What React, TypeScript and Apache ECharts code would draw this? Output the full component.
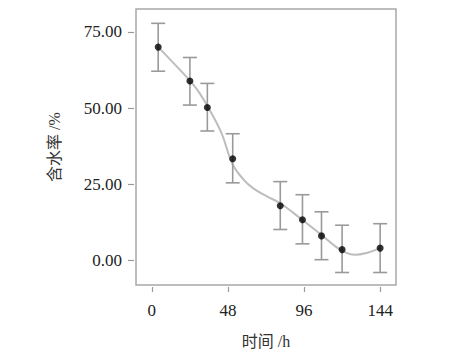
import React, { useEffect, useRef } from "react";
import * as echarts from "echarts";

const times = [4, 24, 35, 51, 81, 95, 107, 120, 144];
const means = [70, 58.9, 50.2, 33.4, 18.0, 13.4, 8.1, 3.6, 4.1];
const lows = [62.1, 51.0, 42.5, 25.5, 10.2, 5.5, 0.3, -3.9, -3.9];
const highs = [77.8, 66.6, 58.1, 41.6, 25.9, 21.6, 16.0, 11.6, 12.1];

const curveTimes = [4, 14, 24, 30, 36, 44, 51, 58, 64, 72, 81, 95, 107, 116, 122, 128, 136, 144];
const curveValues = [70, 64.6, 59, 55, 49.8, 41.7, 31.5, 26.5, 23.7, 21.2, 18.8, 13.3, 8.4, 4.6, 2.7, 1.9, 2.6, 4.1];

const xTicks = [0, 48, 96, 144];
const yTicks = [0, 25, 50, 75];

const FONT = "Liberation Serif, Noto Sans CJK SC, serif";

export default function App() {
  const ref = useRef<HTMLDivElement>(null);
  useEffect(() => {
    if (!ref.current) return;
    const chart = echarts.init(ref.current, undefined, { renderer: "svg" });
    const errData = times.map((t, i) => [t, lows[i], highs[i]]);
    chart.setOption({
      animation: false,
      backgroundColor: "#ffffff",
      grid: {
        left: 136,
        top: 9,
        width: 260,
        height: 276,
        show: true,
        borderColor: "#a8a8a8",
        borderWidth: 1.5,
        backgroundColor: "transparent",
      },
      xAxis: {
        type: "value",
        min: -10,
        max: 154,
        offset: 2,
        name: "时间 /h",
        nameLocation: "middle",
        nameGap: 46,
        nameTextStyle: { fontFamily: FONT, fontSize: 16, color: "#333" },
        axisLine: { show: false, onZero: false },
        axisTick: { show: true, length: 5, customValues: xTicks, lineStyle: { color: "#999", width: 1.2 } },
        axisLabel: { customValues: xTicks, margin: 15, fontFamily: FONT, fontSize: 17, color: "#222" },
        splitLine: { show: false },
      },
      yAxis: {
        type: "value",
        min: -8,
        max: 82.5,
        offset: 2,
        name: "含水率 /%",
        nameLocation: "middle",
        nameGap: 72,
        nameRotate: 90,
        nameTextStyle: { fontFamily: FONT, fontSize: 16, color: "#333" },
        axisLine: { show: false, onZero: false },
        axisTick: { show: true, length: 6, customValues: yTicks, lineStyle: { color: "#999", width: 1.2 } },
        axisLabel: {
          customValues: yTicks,
          margin: 12,
          fontFamily: FONT,
          fontSize: 17,
          color: "#222",
          formatter: (v: number) => v.toFixed(2),
        },
        splitLine: { show: false },
      },
      series: [
        {
          type: "line",
          data: curveTimes.map((t, i) => [t, curveValues[i]]),
          smooth: 0.4,
          showSymbol: false,
          lineStyle: { color: "#bdbdbd", width: 2 },
          z: 1,
        },
        {
          type: "custom",
          data: errData,
          z: 2,
          renderItem: (params: any, api: any) => {
            const x = api.value(0);
            const lo = api.coord([x, api.value(1)]);
            const hi = api.coord([x, api.value(2)]);
            const hw = 7;
            const style = { stroke: "#9a9a9a", lineWidth: 1.6 };
            return {
              type: "group",
              children: [
                { type: "line", shape: { x1: lo[0], y1: lo[1], x2: hi[0], y2: hi[1] }, style },
                { type: "line", shape: { x1: hi[0] - hw, y1: hi[1], x2: hi[0] + hw, y2: hi[1] }, style },
                { type: "line", shape: { x1: lo[0] - hw, y1: lo[1], x2: lo[0] + hw, y2: lo[1] }, style },
              ],
            };
          },
        },
        {
          type: "scatter",
          data: times.map((t, i) => [t, means[i]]),
          symbol: "circle",
          symbolSize: 7,
          itemStyle: { color: "#000" },
          z: 3,
        },
      ],
    });
    return () => chart.dispose();
  }, []);
  return (
    <div
      ref={ref}
      style={{ position: "fixed", left: 0, top: 0, width: 450, height: 357 }}
    />
  );
}
